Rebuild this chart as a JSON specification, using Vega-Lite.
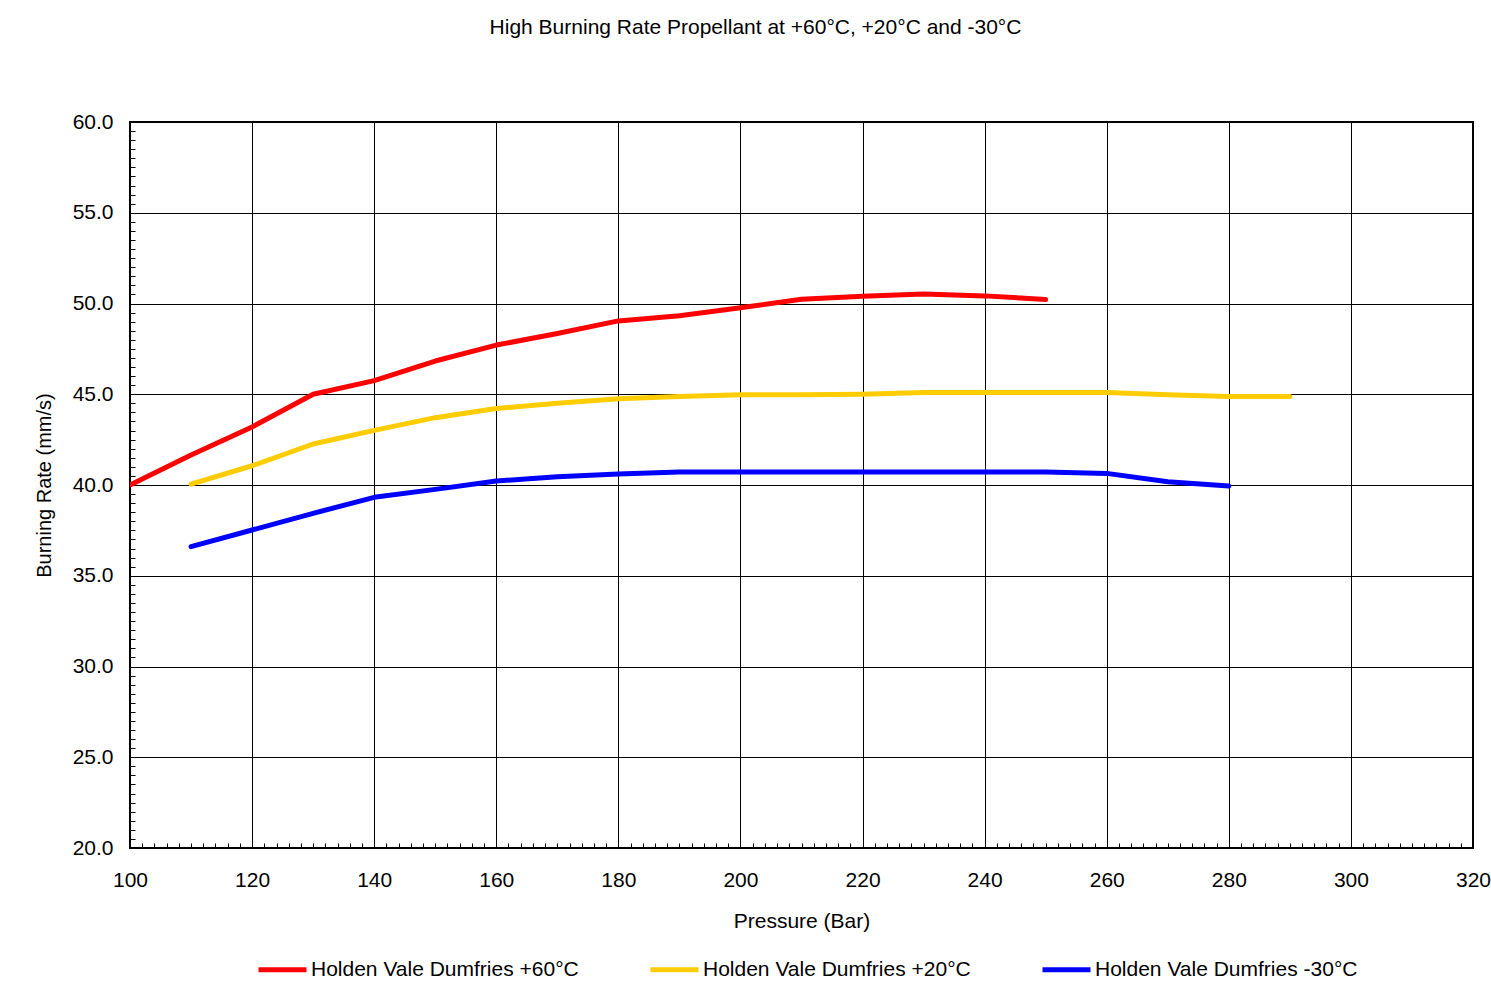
{
  "$schema": "https://vega.github.io/schema/vega-lite/v6.json",
  "autosize": {"type": "none"},
  "width": 1343,
  "height": 726,
  "padding": {"left": 130, "top": 122, "right": 18, "bottom": 142},
  "background": "white",
  "config": {
    "font": "Liberation Sans",
    "view": {"stroke": "black", "strokeWidth": 2},
    "axis": {"domain": false}
  },
  "title": {
    "text": "High Burning Rate Propellant at +60°C, +20°C and -30°C",
    "fontSize": 21,
    "fontWeight": "normal",
    "font": "Liberation Sans",
    "color": "black",
    "anchor": "middle",
    "dx": -46,
    "offset": 73
  },
  "data": {
    "values": [
      {"series": "Holden Vale Dumfries +60°C", "pressure": 100, "rate": 40.0},
      {"series": "Holden Vale Dumfries +60°C", "pressure": 110, "rate": 41.65},
      {"series": "Holden Vale Dumfries +60°C", "pressure": 120, "rate": 43.2},
      {"series": "Holden Vale Dumfries +60°C", "pressure": 130, "rate": 45.0},
      {"series": "Holden Vale Dumfries +60°C", "pressure": 140, "rate": 45.75},
      {"series": "Holden Vale Dumfries +60°C", "pressure": 150, "rate": 46.83},
      {"series": "Holden Vale Dumfries +60°C", "pressure": 160, "rate": 47.71},
      {"series": "Holden Vale Dumfries +60°C", "pressure": 170, "rate": 48.35},
      {"series": "Holden Vale Dumfries +60°C", "pressure": 180, "rate": 49.04},
      {"series": "Holden Vale Dumfries +60°C", "pressure": 190, "rate": 49.33},
      {"series": "Holden Vale Dumfries +60°C", "pressure": 200, "rate": 49.77},
      {"series": "Holden Vale Dumfries +60°C", "pressure": 210, "rate": 50.23},
      {"series": "Holden Vale Dumfries +60°C", "pressure": 220, "rate": 50.4},
      {"series": "Holden Vale Dumfries +60°C", "pressure": 230, "rate": 50.52},
      {"series": "Holden Vale Dumfries +60°C", "pressure": 240, "rate": 50.42},
      {"series": "Holden Vale Dumfries +60°C", "pressure": 250, "rate": 50.22},
      {"series": "Holden Vale Dumfries +20°C", "pressure": 110, "rate": 40.05},
      {"series": "Holden Vale Dumfries +20°C", "pressure": 120, "rate": 41.06},
      {"series": "Holden Vale Dumfries +20°C", "pressure": 130, "rate": 42.26},
      {"series": "Holden Vale Dumfries +20°C", "pressure": 140, "rate": 43.01},
      {"series": "Holden Vale Dumfries +20°C", "pressure": 150, "rate": 43.71},
      {"series": "Holden Vale Dumfries +20°C", "pressure": 160, "rate": 44.22},
      {"series": "Holden Vale Dumfries +20°C", "pressure": 170, "rate": 44.5},
      {"series": "Holden Vale Dumfries +20°C", "pressure": 180, "rate": 44.75},
      {"series": "Holden Vale Dumfries +20°C", "pressure": 190, "rate": 44.87},
      {"series": "Holden Vale Dumfries +20°C", "pressure": 200, "rate": 44.97},
      {"series": "Holden Vale Dumfries +20°C", "pressure": 210, "rate": 44.97},
      {"series": "Holden Vale Dumfries +20°C", "pressure": 220, "rate": 45.0},
      {"series": "Holden Vale Dumfries +20°C", "pressure": 230, "rate": 45.09},
      {"series": "Holden Vale Dumfries +20°C", "pressure": 240, "rate": 45.1},
      {"series": "Holden Vale Dumfries +20°C", "pressure": 250, "rate": 45.1},
      {"series": "Holden Vale Dumfries +20°C", "pressure": 260, "rate": 45.09},
      {"series": "Holden Vale Dumfries +20°C", "pressure": 270, "rate": 44.97},
      {"series": "Holden Vale Dumfries +20°C", "pressure": 280, "rate": 44.87},
      {"series": "Holden Vale Dumfries +20°C", "pressure": 290, "rate": 44.87},
      {"series": "Holden Vale Dumfries -30°C", "pressure": 110, "rate": 36.6},
      {"series": "Holden Vale Dumfries -30°C", "pressure": 120, "rate": 37.52},
      {"series": "Holden Vale Dumfries -30°C", "pressure": 130, "rate": 38.44},
      {"series": "Holden Vale Dumfries -30°C", "pressure": 140, "rate": 39.32},
      {"series": "Holden Vale Dumfries -30°C", "pressure": 150, "rate": 39.76},
      {"series": "Holden Vale Dumfries -30°C", "pressure": 160, "rate": 40.22},
      {"series": "Holden Vale Dumfries -30°C", "pressure": 170, "rate": 40.46},
      {"series": "Holden Vale Dumfries -30°C", "pressure": 180, "rate": 40.6},
      {"series": "Holden Vale Dumfries -30°C", "pressure": 190, "rate": 40.72},
      {"series": "Holden Vale Dumfries -30°C", "pressure": 200, "rate": 40.72},
      {"series": "Holden Vale Dumfries -30°C", "pressure": 210, "rate": 40.72},
      {"series": "Holden Vale Dumfries -30°C", "pressure": 220, "rate": 40.72},
      {"series": "Holden Vale Dumfries -30°C", "pressure": 230, "rate": 40.72},
      {"series": "Holden Vale Dumfries -30°C", "pressure": 240, "rate": 40.72},
      {"series": "Holden Vale Dumfries -30°C", "pressure": 250, "rate": 40.72},
      {"series": "Holden Vale Dumfries -30°C", "pressure": 260, "rate": 40.64},
      {"series": "Holden Vale Dumfries -30°C", "pressure": 270, "rate": 40.18},
      {"series": "Holden Vale Dumfries -30°C", "pressure": 280, "rate": 39.94}
    ]
  },
  "mark": {"type": "line", "strokeWidth": 5, "strokeCap": "round", "strokeJoin": "round", "clip": true},
  "encoding": {
    "x": {
      "field": "pressure",
      "type": "quantitative",
      "scale": {"domain": [100, 320], "nice": false, "zero": false},
      "axis": {
        "title": "Pressure (Bar)",
        "titleFont": "Liberation Sans",
        "titleFontSize": 21,
        "titleFontWeight": "normal",
        "titleColor": "black",
        "titlePadding": 20,
        "values": [100,102,104,106,108,110,112,114,116,118,120,122,124,126,128,130,132,134,136,138,140,142,144,146,148,150,152,154,156,158,160,162,164,166,168,170,172,174,176,178,180,182,184,186,188,190,192,194,196,198,200,202,204,206,208,210,212,214,216,218,220,222,224,226,228,230,232,234,236,238,240,242,244,246,248,250,252,254,256,258,260,262,264,266,268,270,272,274,276,278,280,282,284,286,288,290,292,294,296,298,300,302,304,306,308,310,312,314,316,318,320],
        "labelExpr": "datum.value % 20 === 0 ? format(datum.value, 'd') : ''",
        "labelOverlap": false,
        "labelFlush": false,
        "labelFont": "Liberation Sans",
        "labelFontSize": 21,
        "labelColor": "black",
        "labelPadding": 26,
        "tickSize": -5,
        "tickColor": "black",
        "tickWidth": 1,
        "grid": true,
        "gridColor": "black",
        "gridWidth": 1,
        "gridOpacity": {"condition": {"test": "datum.value % 20 === 0", "value": 1}, "value": 0}
      }
    },
    "y": {
      "field": "rate",
      "type": "quantitative",
      "scale": {"domain": [20, 60], "nice": false, "zero": false},
      "axis": {
        "title": "Burning Rate (mm/s)",
        "titleFont": "Liberation Sans",
        "titleFontSize": 20,
        "titleFontWeight": "normal",
        "titleColor": "black",
        "titlePadding": 18,
        "values": [20,20.5,21,21.5,22,22.5,23,23.5,24,24.5,25,25.5,26,26.5,27,27.5,28,28.5,29,29.5,30,30.5,31,31.5,32,32.5,33,33.5,34,34.5,35,35.5,36,36.5,37,37.5,38,38.5,39,39.5,40,40.5,41,41.5,42,42.5,43,43.5,44,44.5,45,45.5,46,46.5,47,47.5,48,48.5,49,49.5,50,50.5,51,51.5,52,52.5,53,53.5,54,54.5,55,55.5,56,56.5,57,57.5,58,58.5,59,59.5,60],
        "labelExpr": "datum.value % 5 === 0 ? format(datum.value, '.1f') : ''",
        "labelOverlap": false,
        "labelFlush": false,
        "labelFont": "Liberation Sans",
        "labelFontSize": 21,
        "labelColor": "black",
        "labelPadding": 22,
        "tickSize": -5,
        "tickColor": "black",
        "tickWidth": 1,
        "grid": true,
        "gridColor": "black",
        "gridWidth": 1,
        "gridOpacity": {"condition": {"test": "datum.value % 5 === 0", "value": 1}, "value": 0}
      }
    },
    "color": {
      "field": "series",
      "type": "nominal",
      "scale": {
        "domain": ["Holden Vale Dumfries +60°C", "Holden Vale Dumfries +20°C", "Holden Vale Dumfries -30°C"],
        "range": ["#FF0000", "#FFCC00", "#0000FF"]
      },
      "legend": {
        "title": null,
        "orient": "none",
        "legendX": 126,
        "legendY": 821,
        "direction": "horizontal",
        "symbolType": "stroke",
        "symbolSize": 2304,
        "symbolStrokeWidth": 5,
        "labelFont": "Liberation Sans",
        "labelFontSize": 21,
        "labelColor": "black",
        "labelLimit": 0,
        "labelOffset": 2,
        "columnPadding": 61
      }
    }
  }
}
